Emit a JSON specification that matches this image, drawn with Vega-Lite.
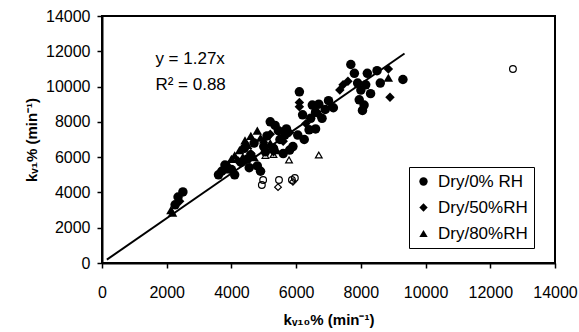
{
  "$schema": "https://vega.github.io/schema/vega-lite/v6.json",
  "width": 453,
  "height": 247,
  "autosize": {"type": "none"},
  "padding": {"left": 102, "top": 16, "right": 24, "bottom": 69},
  "background": "white",
  "config": {
    "view": {"stroke": "black", "strokeWidth": 2},
    "font": "Liberation Sans",
    "axis": {
      "grid": false,
      "domainColor": "black",
      "domainWidth": 2,
      "tickColor": "black",
      "tickWidth": 1.5,
      "tickSize": 5,
      "labelColor": "black",
      "labelFont": "Liberation Sans",
      "labelFontSize": 16,
      "labelOverlap": false,
      "labelFlush": false,
      "titleColor": "black",
      "titleFont": "Liberation Sans",
      "titleFontSize": 15,
      "titleFontWeight": "bold"
    }
  },
  "datasets": {
    "filled": [
      {"x": 2500, "y": 4030, "g": "Dry/0% RH"},
      {"x": 2350, "y": 3740, "g": "Dry/0% RH"},
      {"x": 2260, "y": 3300, "g": "Dry/0% RH"},
      {"x": 3600, "y": 5000, "g": "Dry/0% RH"},
      {"x": 3800, "y": 5550, "g": "Dry/0% RH"},
      {"x": 3700, "y": 5200, "g": "Dry/0% RH"},
      {"x": 4000, "y": 5300, "g": "Dry/0% RH"},
      {"x": 4100, "y": 5000, "g": "Dry/0% RH"},
      {"x": 4300, "y": 5700, "g": "Dry/0% RH"},
      {"x": 4500, "y": 5900, "g": "Dry/0% RH"},
      {"x": 4600, "y": 6100, "g": "Dry/0% RH"},
      {"x": 4800, "y": 5500, "g": "Dry/0% RH"},
      {"x": 5000, "y": 6600, "g": "Dry/0% RH"},
      {"x": 5200, "y": 8000, "g": "Dry/0% RH"},
      {"x": 5350, "y": 7800, "g": "Dry/0% RH"},
      {"x": 5100, "y": 7200, "g": "Dry/0% RH"},
      {"x": 5500, "y": 7000, "g": "Dry/0% RH"},
      {"x": 5650, "y": 7250, "g": "Dry/0% RH"},
      {"x": 5800, "y": 6400, "g": "Dry/0% RH"},
      {"x": 5900, "y": 6600, "g": "Dry/0% RH"},
      {"x": 6050, "y": 7250, "g": "Dry/0% RH"},
      {"x": 6100, "y": 9700, "g": "Dry/0% RH"},
      {"x": 6400, "y": 7550, "g": "Dry/0% RH"},
      {"x": 6450, "y": 8200, "g": "Dry/0% RH"},
      {"x": 6500, "y": 8950, "g": "Dry/0% RH"},
      {"x": 6600, "y": 8550, "g": "Dry/0% RH"},
      {"x": 6700, "y": 9000, "g": "Dry/0% RH"},
      {"x": 6800, "y": 8200, "g": "Dry/0% RH"},
      {"x": 6900, "y": 8700, "g": "Dry/0% RH"},
      {"x": 7150, "y": 8800, "g": "Dry/0% RH"},
      {"x": 7690, "y": 11250, "g": "Dry/0% RH"},
      {"x": 7800, "y": 10750, "g": "Dry/0% RH"},
      {"x": 7900, "y": 10200, "g": "Dry/0% RH"},
      {"x": 8000, "y": 9800, "g": "Dry/0% RH"},
      {"x": 7950, "y": 9250, "g": "Dry/0% RH"},
      {"x": 8100, "y": 8950, "g": "Dry/0% RH"},
      {"x": 8050, "y": 8650, "g": "Dry/0% RH"},
      {"x": 8200, "y": 10750, "g": "Dry/0% RH"},
      {"x": 8500, "y": 10900, "g": "Dry/0% RH"},
      {"x": 8600, "y": 10200, "g": "Dry/0% RH"},
      {"x": 9300, "y": 10400, "g": "Dry/0% RH"},
      {"x": 4900, "y": 5200, "g": "Dry/0% RH"},
      {"x": 5600, "y": 6200, "g": "Dry/0% RH"},
      {"x": 4400, "y": 6500, "g": "Dry/0% RH"},
      {"x": 6600, "y": 7600, "g": "Dry/0% RH"},
      {"x": 8300, "y": 9600, "g": "Dry/0% RH"},
      {"x": 5700, "y": 7600, "g": "Dry/0% RH"},
      {"x": 6200, "y": 8400, "g": "Dry/0% RH"},
      {"x": 4700, "y": 6800, "g": "Dry/0% RH"},
      {"x": 5300, "y": 6500, "g": "Dry/0% RH"},
      {"x": 5450, "y": 7500, "g": "Dry/0% RH"},
      {"x": 5050, "y": 6300, "g": "Dry/0% RH"},
      {"x": 4550, "y": 5400, "g": "Dry/0% RH"},
      {"x": 6250, "y": 7000, "g": "Dry/0% RH"},
      {"x": 7000, "y": 9200, "g": "Dry/0% RH"},
      {"x": 8150, "y": 10100, "g": "Dry/0% RH"},
      {"x": 6100, "y": 9100, "g": "Dry/50%RH"},
      {"x": 6100, "y": 8850, "g": "Dry/50%RH"},
      {"x": 7450, "y": 10100, "g": "Dry/50%RH"},
      {"x": 7350, "y": 9800, "g": "Dry/50%RH"},
      {"x": 8850, "y": 11000, "g": "Dry/50%RH"},
      {"x": 8900, "y": 9400, "g": "Dry/50%RH"},
      {"x": 5300, "y": 6300, "g": "Dry/50%RH"},
      {"x": 5800, "y": 7400, "g": "Dry/50%RH"},
      {"x": 6700, "y": 8400, "g": "Dry/50%RH"},
      {"x": 4600, "y": 6200, "g": "Dry/50%RH"},
      {"x": 5200, "y": 7300, "g": "Dry/50%RH"},
      {"x": 6300, "y": 7900, "g": "Dry/50%RH"},
      {"x": 7600, "y": 10300, "g": "Dry/50%RH"},
      {"x": 5600, "y": 6900, "g": "Dry/50%RH"},
      {"x": 4200, "y": 5800, "g": "Dry/50%RH"},
      {"x": 2400, "y": 3500, "g": "Dry/50%RH"},
      {"x": 2130, "y": 3000, "g": "Dry/80%RH"},
      {"x": 2180, "y": 2850, "g": "Dry/80%RH"},
      {"x": 4800, "y": 7500, "g": "Dry/80%RH"},
      {"x": 4420, "y": 6950, "g": "Dry/80%RH"},
      {"x": 4250, "y": 6400, "g": "Dry/80%RH"},
      {"x": 4000, "y": 5900, "g": "Dry/80%RH"},
      {"x": 4600, "y": 7200, "g": "Dry/80%RH"},
      {"x": 4100, "y": 6100, "g": "Dry/80%RH"},
      {"x": 3900, "y": 5600, "g": "Dry/80%RH"},
      {"x": 5000, "y": 7000, "g": "Dry/80%RH"},
      {"x": 5200, "y": 6800, "g": "Dry/80%RH"},
      {"x": 4500, "y": 6700, "g": "Dry/80%RH"},
      {"x": 8850, "y": 10500, "g": "Dry/80%RH"},
      {"x": 5400, "y": 6400, "g": "Dry/80%RH"},
      {"x": 4700, "y": 6000, "g": "Dry/80%RH"},
      {"x": 3800, "y": 5300, "g": "Dry/80%RH"},
      {"x": 4350, "y": 6000, "g": "Dry/80%RH"},
      {"x": 4900, "y": 7100, "g": "Dry/80%RH"}
    ],
    "open": [
      {"x": 12700, "y": 11000, "s": "circle"},
      {"x": 4940, "y": 4420, "s": "circle"},
      {"x": 4980, "y": 4700, "s": "circle"},
      {"x": 5470, "y": 4700, "s": "circle"},
      {"x": 5870, "y": 4700, "s": "circle"},
      {"x": 5960, "y": 4820, "s": "circle"},
      {"x": 5780, "y": 5840, "s": "triangle-up"},
      {"x": 6700, "y": 6120, "s": "triangle-up"},
      {"x": 5050, "y": 6100, "s": "triangle-up"},
      {"x": 5300, "y": 6150, "s": "triangle-up"},
      {"x": 5440, "y": 4300, "s": "diamond"},
      {"x": 5900, "y": 4600, "s": "diamond"}
    ],
    "fit": [
      {"x": 150, "y": 190},
      {"x": 9350, "y": 11875}
    ],
    "notes": [
      {"x": 1650, "y": 11550, "t": "y = 1.27x"},
      {"x": 1650, "y": 10100, "t": "R² = 0.88"}
    ]
  },
  "encoding": {
    "x": {"field": "x", "type": "quantitative", "scale": {"domain": [0, 14000], "nice": false},
      "axis": {"values": [0, 2000, 4000, 6000, 8000, 10000, 12000, 14000], "format": "d", "labelPadding": 16, "titlePadding": 12, "title": "kᵥ₁₀%  (min⁻¹)"}},
    "y": {"field": "y", "type": "quantitative", "scale": {"domain": [0, 14000], "nice": false},
      "axis": {"values": [0, 2000, 4000, 6000, 8000, 10000, 12000, 14000], "format": "d", "labelPadding": 7, "titlePadding": 6, "title": "kᵥ₁%  (min⁻¹)"}}
  },
  "layer": [
    {
      "data": {"name": "fit"},
      "mark": {"type": "line", "color": "black", "strokeWidth": 2},
      "encoding": {}
    },
    {
      "data": {"name": "filled"},
      "mark": {"type": "point", "filled": true, "color": "black", "size": 90, "opacity": 1},
      "encoding": {
        "shape": {"field": "g", "type": "nominal",
          "scale": {"domain": ["Dry/0% RH", "Dry/50%RH", "Dry/80%RH"], "range": ["circle", "diamond", "triangle-up"]},
          "legend": {
            "title": null, "orient": "none", "legendX": 307, "legendY": 151,
            "strokeColor": "black", "fillColor": "white", "padding": 6,
            "labelFontSize": 17, "labelFont": "Liberation Sans", "labelColor": "black",
            "symbolSize": 70, "symbolFillColor": "black", "symbolStrokeColor": "black",
            "rowPadding": 8, "labelOffset": 6
          }}
      }
    },
    {
      "data": {"name": "open"},
      "mark": {"type": "point", "filled": false, "color": "black", "size": 45, "strokeWidth": 1.2, "opacity": 1},
      "encoding": {
        "shape": {"field": "s", "type": "nominal", "scale": null, "legend": null}
      }
    },
    {
      "data": {"name": "notes"},
      "mark": {"type": "text", "align": "left", "baseline": "middle", "fontSize": 17, "font": "Liberation Sans", "color": "black"},
      "encoding": {
        "text": {"field": "t"}
      }
    }
  ],
  "resolve": {"scale": {"shape": "independent"}}
}
